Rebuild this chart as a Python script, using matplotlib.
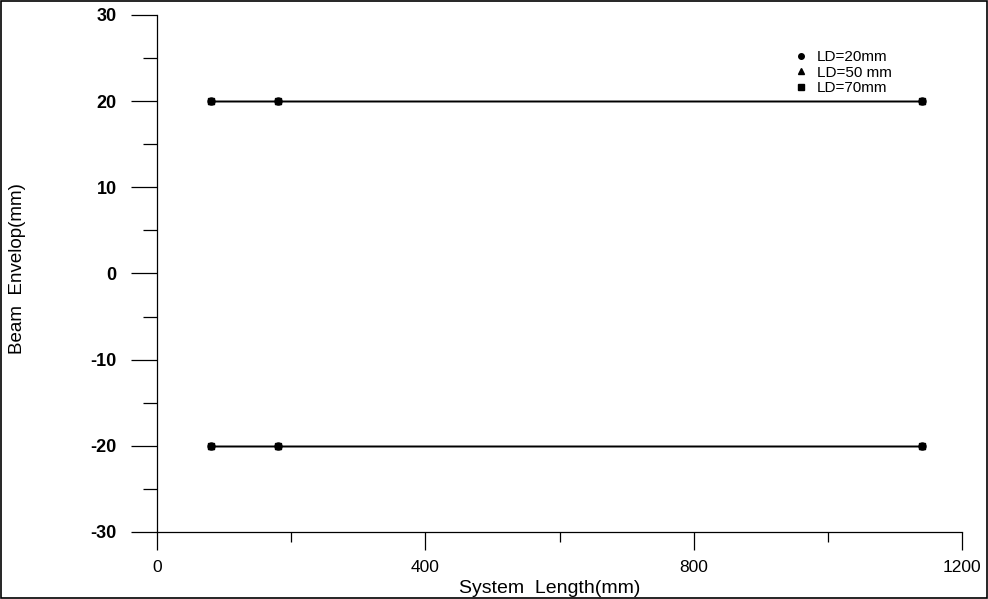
import matplotlib.pyplot as plt
from matplotlib.patches import Rectangle
from matplotlib.ticker import MultipleLocator

plt.rcParams["axes.unicode_minus"] = False

# system length positions (mm) and beam envelope (mm)
length = [80, 180, 1140]
upper = [20, 20, 20]
lower = [-20, -20, -20]

series = ["LD=20mm", "LD=50 mm", "LD=70mm"]
markers = ["o", "^", "s"]

fig = plt.figure(figsize=(9.88, 5.99), dpi=100)
ax = fig.add_axes([0.159, 0.112, 0.815, 0.863])

for name, m in zip(series, markers):
    ax.plot(length, upper, color="black", lw=1.0, marker=m, ms=5, label=name)
    ax.plot(length, lower, color="black", lw=1.0, marker=m, ms=5)

ax.set_xlim(0, 1200)
ax.set_ylim(-30, 30)
ax.xaxis.set_major_locator(MultipleLocator(400))
ax.xaxis.set_minor_locator(MultipleLocator(200))
ax.yaxis.set_major_locator(MultipleLocator(10))
ax.yaxis.set_minor_locator(MultipleLocator(5))

for s in ["top", "right"]:
    ax.spines[s].set_visible(False)
ax.spines["left"].set_linewidth(0.9)
ax.spines["bottom"].set_linewidth(0.9)

ax.tick_params(axis="y", which="major", direction="out", length=19, width=0.9, pad=10,
               labelsize=13)
ax.tick_params(axis="y", which="minor", direction="out", length=10, width=0.9)
ax.tick_params(axis="x", which="major", direction="out", length=13, width=0.9, pad=7,
               labelsize=12.5)
ax.tick_params(axis="x", which="minor", direction="out", length=7, width=0.9)
for lab in ax.get_yticklabels():
    lab.set_fontfamily(["Liberation Sans", "DejaVu Sans"])
    lab.set_fontweight("bold")
for lab in ax.get_xticklabels():
    lab.set_fontfamily(["Liberation Sans", "DejaVu Sans"])

ax.set_xlabel("System  Length(mm)", fontsize=14,
              family=["Liberation Sans", "DejaVu Sans"])
ax.xaxis.set_label_coords(0.488, -0.093)
ax.set_ylabel("Beam  Envelop(mm)", fontsize=13.5,
              family=["Liberation Sans Narrow", "Liberation Sans", "DejaVu Sans"],
              fontstretch="condensed")
ax.yaxis.set_label_coords(-0.163, 0.51)

ax.legend(handles=[plt.Line2D([], [], color="black", marker=m, ls="none", ms=4)
                   for m in markers],
          labels=series, loc="upper left", bbox_to_anchor=(0.783, 0.947),
          frameon=False, handlelength=0.8, handletextpad=0.6,
          labelspacing=0.1, borderpad=0,
          prop={"family": "Liberation Sans", "size": 11})

fig.patches.append(Rectangle((0.001, 0.001), 0.998, 0.997, transform=fig.transFigure,
                             fill=False, edgecolor="black", lw=1.2))

fig.savefig("out.png", dpi=100)
